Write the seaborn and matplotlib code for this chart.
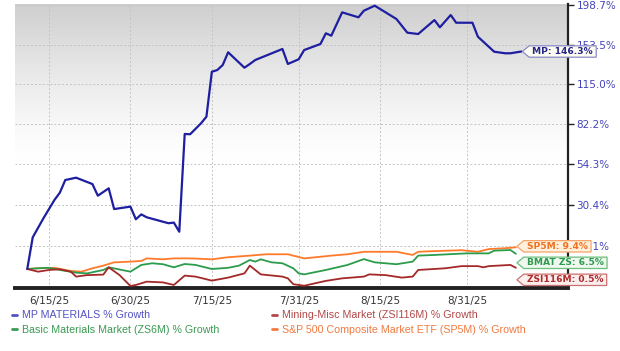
import numpy as np
import pandas as pd
import matplotlib
matplotlib.use("Agg")
import matplotlib.pyplot as plt
from matplotlib.path import Path
from matplotlib.lines import Line2D
from matplotlib.ticker import FixedLocator, NullLocator
import seaborn as sns

# ---------------- data ----------------
YEAR = "2025-"

mp_dates = ["06-11", "06-12", "06-14", "06-16", "06-17", "06-18", "06-20", "06-23", "06-24", "06-26",
            "06-27", "06-30", "07-01", "07-02", "07-03", "07-07", "07-08", "07-09", "07-10", "07-11",
            "07-13", "07-14", "07-15", "07-16", "07-17", "07-18", "07-21", "07-22", "07-23", "07-28",
            "07-29", "07-31", "08-01", "08-04", "08-05", "08-06", "08-08", "08-11", "08-12", "08-14",
            "08-18", "08-20", "08-22", "08-25", "08-26", "08-28", "08-29", "09-01", "09-02", "09-05",
            "09-07", "09-08", "09-10"]
mp_pct = [0, 14.0, 23.5, 33.1, 37.2, 44.6, 46.0, 42.2, 35.5, 39.7,
          28.2, 29.5, 22.9, 25.4, 23.9, 20.9, 21.2, 16.7, 75.0, 74.8,
          82.9, 88.0, 126.5, 128.1, 132.9, 145.5, 130.3, 133.9, 137.8, 148.9,
          133.9, 138.5, 147.8, 154.1, 165.6, 163.0, 189.7, 183.8, 191.7, 197.8,
          181.8, 166.3, 164.8, 180.6, 172.3, 186.5, 177.5, 177.5, 161.9, 146.1,
          144.5, 144.5, 146.3]

zsi_dates = ["06-11", "06-13", "06-15", "06-17", "06-19", "06-20", "06-22", "06-25", "06-26", "06-28",
             "06-30", "07-01", "07-03", "07-06", "07-08", "07-10", "07-12", "07-15", "07-18", "07-21",
             "07-22", "07-24", "07-28", "07-29", "07-30", "08-01", "08-05", "08-08", "08-12", "08-13",
             "08-16", "08-19", "08-21", "08-22", "08-27", "08-30", "09-02", "09-03", "09-04", "09-08",
             "09-09"]
zsi_pct = [0, -1.1, -0.4, -0.1, -1.1, -3.1, -2.5, -2.3, 0.7, -2.5,
           -6.8, -6.4, -5.1, -5.4, -6.4, -2.7, -3.1, -4.7, -3.5, -1.8,
           1.4, -2.2, -3.1, -3.8, -6.1, -6.7, -4.8, -3.8, -3.1, -2.2,
           -2.5, -3.5, -3.1, -0.4, 0.3, 1.2, 1.2, 0.7, 1.2, 1.7,
           0.5]

zs6_dates = ["06-11", "06-13", "06-15", "06-17", "06-20", "06-22", "06-25", "06-26", "06-30", "07-02",
             "07-04", "07-06", "07-08", "07-10", "07-12", "07-15", "07-18", "07-20", "07-22", "07-23",
             "07-24", "07-26", "07-28", "07-30", "07-31", "08-01", "08-05", "08-09", "08-12", "08-14",
             "08-18", "08-21", "08-22", "08-25", "08-31", "09-04", "09-05", "09-08", "09-09"]
zs6_pct = [0, 0.3, 0.5, -0.4, -1.5, -1.8, -0.4, 0.7, -1.1, 1.7,
           2.4, 2.0, 0.7, 2.1, 1.7, 0.0, 0.5, 1.4, 3.8, 3.1,
           4.1, 2.8, 2.4, 0.3, -1.8, -2.2, -0.4, 1.7, 4.2, 2.8,
           2.0, 3.1, 5.7, 6.0, 6.7, 6.7, 7.9, 8.2, 6.5]

sp5_dates = ["06-11", "06-13", "06-16", "06-19", "06-21", "06-23", "06-25", "06-27", "06-30", "07-02",
             "07-03", "07-06", "07-08", "07-11", "07-15", "07-18", "07-22", "07-25", "07-29", "08-01",
             "08-04", "08-06", "08-09", "08-12", "08-18", "08-21", "08-22", "08-25", "08-30", "09-02",
             "09-04", "09-07", "09-09"]
sp5_pct = [0, 0.3, 0.5, -0.8, -1.1, 0.3, 1.4, 2.8, 3.1, 3.4,
           4.5, 4.1, 4.5, 4.5, 4.1, 5.0, 5.7, 6.3, 6.3, 4.5,
           5.2, 5.7, 6.3, 7.4, 7.4, 6.0, 7.4, 7.7, 8.1, 7.4,
           8.6, 9.0, 9.4]

series_names = ["MP MATERIALS % Growth",
                "Mining-Misc Market (ZSI116M) % Growth",
                "Basic Materials Market (ZS6M) % Growth",
                "S&P 500 Composite Market ETF (SP5M) % Growth"]
end_labels = ["MP: 146.3%", "ZSI116M: 0.5%", "BMAT ZS: 6.5%", "SP5M: 9.4%"]

x_tick_dates = ["2025-06-15", "2025-06-30", "2025-07-15", "2025-07-31", "2025-08-15", "2025-08-31"]
x_tick_labels = ["6/15/25", "6/30/25", "7/15/25", "7/31/25", "8/15/25", "8/31/25"]
y_tick_values = [10.1, 30.4, 54.3, 82.2, 115.0, 153.5, 198.7]
y_tick_labels = ["10.1%", "30.4%", "54.3%", "82.2%", "115.0%", "153.5%", "198.7%"]

# ---------------- styling ----------------
line_colors = ["#1e1ea0", "#a52828", "#2c9c4c", "#ff7a2a"]
legend_text_colors = ["#5252c4", "#b24848", "#3a9a52", "#f07a40"]
line_widths = [1.6, 1.3, 1.3, 1.3]
label_text_colors = ["#26268c", "#b02c2c", "#2f9a4f", "#f07020"]
label_face_colors = ["#fdfdf2", "#fbeeee", "#eef8ee", "#fff1dc"]
label_edge_colors = ["#8a8ac8", "#cc7070", "#6cbf7c", "#f5a56a"]
label_offsets = [(0, 0), (0, -12), (0, -9), (0, 1)]   # pixel offsets of the tag tips

sns.set_style("white")
plt.rcParams["font.family"] = ["DejaVu Sans"]

W, H = 620, 351
fig = plt.figure(figsize=(W / 100, H / 100), dpi=100)
left_px, right_px, top_px, bot_px = 15, 568, 4, 288
rect = [left_px / W, 1 - bot_px / H, (right_px - left_px) / W, (bot_px - top_px) / H]

# gradient background
bg = fig.add_axes(rect, zorder=0)
t = np.linspace(0, 1, 300)
v = 1 - 0.19 * (1 - np.clip(t / 0.55, 0, 1)) ** 1.3
grad = np.repeat(v[:, None, None], 3, axis=2)
bg.imshow(grad, aspect="auto", extent=[0, 1, 0, 1])
bg.axis("off")

ax = fig.add_axes(rect, zorder=1)
ax.patch.set_alpha(0)

frames = []
for name, dates, vals in [(series_names[0], mp_dates, mp_pct),
                          (series_names[1], zsi_dates, zsi_pct),
                          (series_names[2], zs6_dates, zs6_pct),
                          (series_names[3], sp5_dates, sp5_pct)]:
    frames.append(pd.DataFrame({"date": pd.to_datetime([YEAR + d for d in dates]),
                                "pct": vals, "series": name}))
df = pd.concat(frames, ignore_index=True)

draw_order = [3, 2, 1, 0]
for i in draw_order:
    sub = df[df["series"] == series_names[i]]
    sns.lineplot(data=sub, x="date", y="pct", color=line_colors[i],
                 linewidth=line_widths[i], ax=ax, legend=False, zorder=3 + (i == 0))

# log-like growth scale
fwd = lambda p: np.log1p(np.asarray(p, dtype=float) / 100.0)
inv = lambda v: np.expm1(np.asarray(v, dtype=float)) * 100.0
ax.set_yscale("function", functions=(fwd, inv))
ax.set_ylim(-7.57, 199.9)

base = pd.Timestamp("2025-06-15")
ax.set_xlim(base - pd.Timedelta(days=6.26), base + pd.Timedelta(days=95.6))

ax.xaxis.set_major_locator(FixedLocator(matplotlib.dates.date2num(pd.to_datetime(x_tick_dates))))
ax.set_xticklabels(x_tick_labels)
ax.yaxis.set_major_locator(FixedLocator(y_tick_values))
ax.yaxis.set_minor_locator(NullLocator())
ax.xaxis.set_minor_locator(NullLocator())
ax.set_yticklabels(y_tick_labels)
ax.set_xlabel("")
ax.set_ylabel("")

ax.yaxis.tick_right()
ax.tick_params(axis="y", which="major", length=4, width=1, color="#222222",
               labelsize=7.5, labelcolor="#4444bb", pad=2)
ax.tick_params(axis="x", which="major", length=0, labelsize=7.5,
               labelcolor="#333333", pad=5.5)

ax.grid(True, linestyle=(0, (2, 2)), color="#c4c4c4", linewidth=0.7)
ax.set_axisbelow(True)
for s in ["left", "top"]:
    ax.spines[s].set_visible(False)
ax.spines["right"].set_color("#222222")
ax.spines["right"].set_linewidth(1.6)
ax.spines["bottom"].set_color("#222222")
ax.spines["bottom"].set_linewidth(2.8)


# tag-shaped label box
def tag_box(x0, y0, width, height, mutation_size):
    padx = 0.35 * mutation_size
    pady = 0.13 * mutation_size
    tip = 0.75 * mutation_size
    x0 -= padx + tip
    x1 = x0 + width + 2 * padx + tip
    y0 -= pady
    y1 = y0 + height + 2 * pady
    ym = (y0 + y1) / 2
    verts = [(x0, ym), (x0 + tip, y0), (x1, y0), (x1, y1), (x0 + tip, y1), (x0, ym)]
    return Path(verts, closed=True)


fs = 6.6
ms = fs * 100 / 72
dx_text = 0.35 * ms + 0.75 * ms
all_dates = [mp_dates, zsi_dates, zs6_dates, sp5_dates]
all_vals = [mp_pct, zsi_pct, zs6_pct, sp5_pct]
for i in range(4):
    xd = pd.Timestamp(YEAR + all_dates[i][-1])
    yv = all_vals[i][-1]
    ox, oy = label_offsets[i]
    ax.annotate(end_labels[i], xy=(xd, yv), xytext=(ox + dx_text + 1, oy),
                textcoords="offset pixels", ha="left", va="center",
                fontsize=fs, fontweight="bold", color=label_text_colors[i],
                annotation_clip=False, zorder=10,
                bbox=dict(boxstyle=tag_box, fc=label_face_colors[i],
                          ec=label_edge_colors[i], lw=0.9))

# legend
leg_fs = 7.7
handles = [Line2D([0], [0], color=legend_text_colors[i], lw=2) for i in [0, 2, 1, 3]]
labels = [series_names[i] for i in [0, 2, 1, 3]]
leg = fig.legend(handles, labels, loc="upper left", bbox_to_anchor=(12 / W, 1 - 310.5 / H),
                 ncol=2, frameon=False, handlelength=0.45, handletextpad=0.5,
                 columnspacing=4.9, labelspacing=0.42, borderpad=0, borderaxespad=0,
                 prop={"family": "Liberation Sans", "size": leg_fs})
for txt, i in zip(leg.get_texts(), [0, 2, 1, 3]):
    txt.set_color(legend_text_colors[i])

fig.savefig("out.png", dpi=100)
